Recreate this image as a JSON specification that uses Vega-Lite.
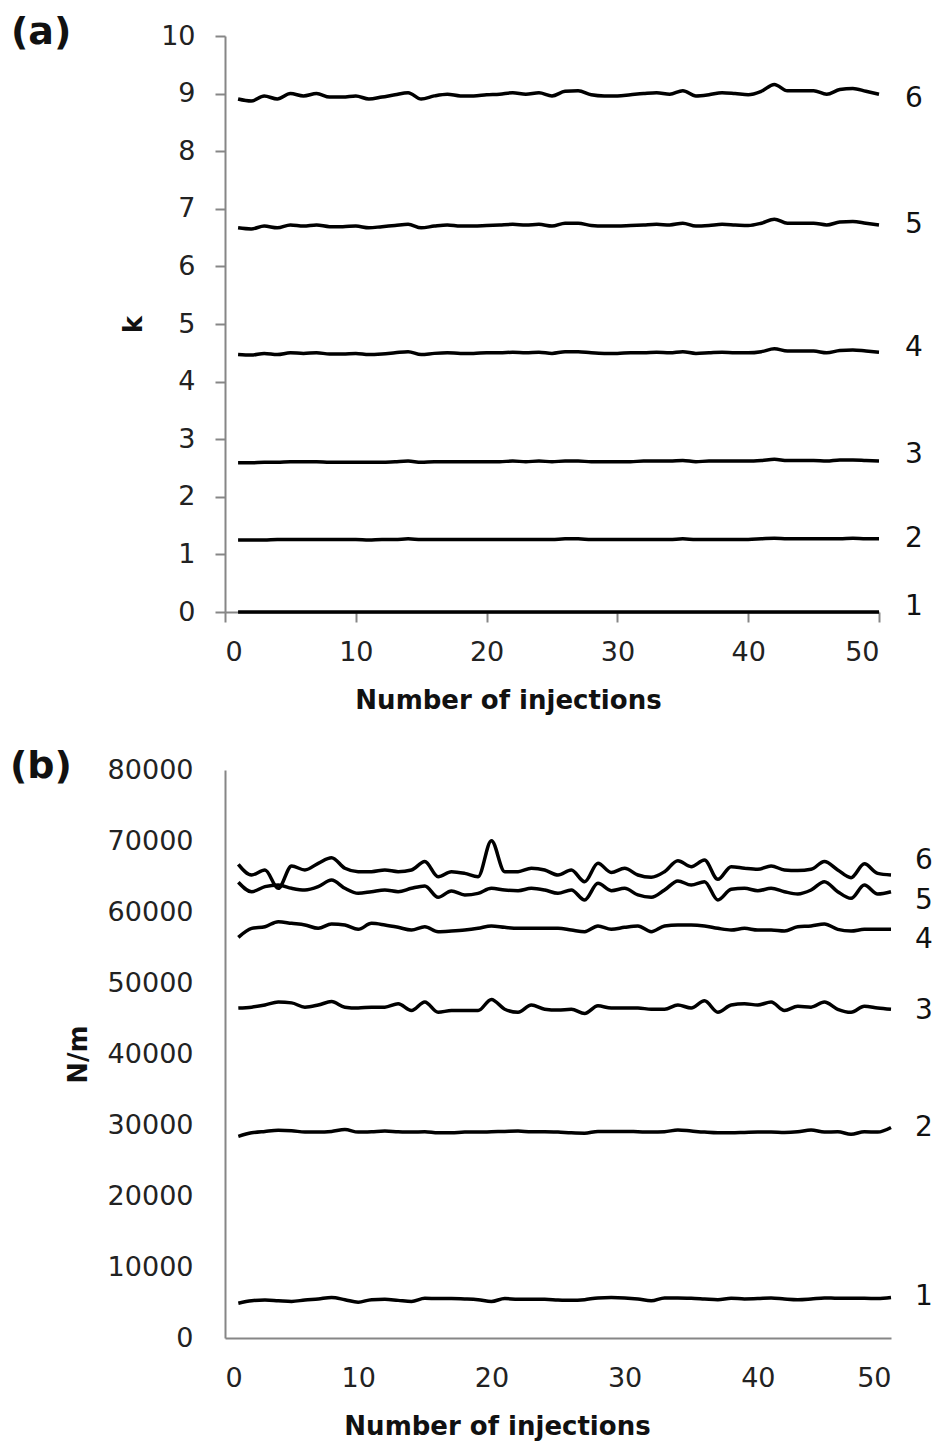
{
 "$schema": "https://vega.github.io/schema/vega-lite/v6.json",
 "padding": {"left": 10, "top": 14, "right": 5, "bottom": 5},
 "spacing": 35,
 "config": {
  "font": "DejaVu Sans",
  "view": {"stroke": null},
  "axis": {"grid": false, "domainColor": "#868686", "domainWidth": 2, "tickColor": "#868686", "tickWidth": 2, "tickSize": 10, "labelFont": "DejaVu Sans", "labelFontSize": 27, "labelColor": "#222222", "titleFont": "DejaVu Sans", "titleFontSize": 26, "titleFontWeight": "bold", "titleColor": "#111111"},
  "title": {"font": "DejaVu Sans", "fontSize": 38, "fontWeight": "bold", "color": "#111111"}
 },
 "datasets": {
  "a": [
   {"s":"1","n":1,"v":0},{"s":"1","n":2,"v":0},{"s":"1","n":3,"v":0},{"s":"1","n":4,"v":0},{"s":"1","n":5,"v":0},{"s":"1","n":6,"v":0},{"s":"1","n":7,"v":0},{"s":"1","n":8,"v":0},{"s":"1","n":9,"v":0},{"s":"1","n":10,"v":0},
   {"s":"1","n":11,"v":0},{"s":"1","n":12,"v":0},{"s":"1","n":13,"v":0},{"s":"1","n":14,"v":0},{"s":"1","n":15,"v":0},{"s":"1","n":16,"v":0},{"s":"1","n":17,"v":0},{"s":"1","n":18,"v":0},{"s":"1","n":19,"v":0},{"s":"1","n":20,"v":0},
   {"s":"1","n":21,"v":0},{"s":"1","n":22,"v":0},{"s":"1","n":23,"v":0},{"s":"1","n":24,"v":0},{"s":"1","n":25,"v":0},{"s":"1","n":26,"v":0},{"s":"1","n":27,"v":0},{"s":"1","n":28,"v":0},{"s":"1","n":29,"v":0},{"s":"1","n":30,"v":0},
   {"s":"1","n":31,"v":0},{"s":"1","n":32,"v":0},{"s":"1","n":33,"v":0},{"s":"1","n":34,"v":0},{"s":"1","n":35,"v":0},{"s":"1","n":36,"v":0},{"s":"1","n":37,"v":0},{"s":"1","n":38,"v":0},{"s":"1","n":39,"v":0},{"s":"1","n":40,"v":0},
   {"s":"1","n":41,"v":0},{"s":"1","n":42,"v":0},{"s":"1","n":43,"v":0},{"s":"1","n":44,"v":0},{"s":"1","n":45,"v":0},{"s":"1","n":46,"v":0},{"s":"1","n":47,"v":0},{"s":"1","n":48,"v":0},{"s":"1","n":49,"v":0},{"s":"1","n":50,"v":0},
   {"s":"2","n":1,"v":1.25},{"s":"2","n":2,"v":1.25},{"s":"2","n":3,"v":1.25},{"s":"2","n":4,"v":1.26},{"s":"2","n":5,"v":1.26},{"s":"2","n":6,"v":1.26},{"s":"2","n":7,"v":1.26},{"s":"2","n":8,"v":1.26},{"s":"2","n":9,"v":1.26},{"s":"2","n":10,"v":1.26},
   {"s":"2","n":11,"v":1.25},{"s":"2","n":12,"v":1.26},{"s":"2","n":13,"v":1.26},{"s":"2","n":14,"v":1.27},{"s":"2","n":15,"v":1.26},{"s":"2","n":16,"v":1.26},{"s":"2","n":17,"v":1.26},{"s":"2","n":18,"v":1.26},{"s":"2","n":19,"v":1.26},{"s":"2","n":20,"v":1.26},
   {"s":"2","n":21,"v":1.26},{"s":"2","n":22,"v":1.26},{"s":"2","n":23,"v":1.26},{"s":"2","n":24,"v":1.26},{"s":"2","n":25,"v":1.26},{"s":"2","n":26,"v":1.27},{"s":"2","n":27,"v":1.27},{"s":"2","n":28,"v":1.26},{"s":"2","n":29,"v":1.26},{"s":"2","n":30,"v":1.26},
   {"s":"2","n":31,"v":1.26},{"s":"2","n":32,"v":1.26},{"s":"2","n":33,"v":1.26},{"s":"2","n":34,"v":1.26},{"s":"2","n":35,"v":1.27},{"s":"2","n":36,"v":1.26},{"s":"2","n":37,"v":1.26},{"s":"2","n":38,"v":1.26},{"s":"2","n":39,"v":1.26},{"s":"2","n":40,"v":1.26},
   {"s":"2","n":41,"v":1.27},{"s":"2","n":42,"v":1.28},{"s":"2","n":43,"v":1.27},{"s":"2","n":44,"v":1.27},{"s":"2","n":45,"v":1.27},{"s":"2","n":46,"v":1.27},{"s":"2","n":47,"v":1.27},{"s":"2","n":48,"v":1.28},{"s":"2","n":49,"v":1.27},{"s":"2","n":50,"v":1.27},
   {"s":"3","n":1,"v":2.59},{"s":"3","n":2,"v":2.59},{"s":"3","n":3,"v":2.6},{"s":"3","n":4,"v":2.6},{"s":"3","n":5,"v":2.61},{"s":"3","n":6,"v":2.61},{"s":"3","n":7,"v":2.61},{"s":"3","n":8,"v":2.6},{"s":"3","n":9,"v":2.6},{"s":"3","n":10,"v":2.6},
   {"s":"3","n":11,"v":2.6},{"s":"3","n":12,"v":2.6},{"s":"3","n":13,"v":2.61},{"s":"3","n":14,"v":2.62},{"s":"3","n":15,"v":2.6},{"s":"3","n":16,"v":2.61},{"s":"3","n":17,"v":2.61},{"s":"3","n":18,"v":2.61},{"s":"3","n":19,"v":2.61},{"s":"3","n":20,"v":2.61},
   {"s":"3","n":21,"v":2.61},{"s":"3","n":22,"v":2.62},{"s":"3","n":23,"v":2.61},{"s":"3","n":24,"v":2.62},{"s":"3","n":25,"v":2.61},{"s":"3","n":26,"v":2.62},{"s":"3","n":27,"v":2.62},{"s":"3","n":28,"v":2.61},{"s":"3","n":29,"v":2.61},{"s":"3","n":30,"v":2.61},
   {"s":"3","n":31,"v":2.61},{"s":"3","n":32,"v":2.62},{"s":"3","n":33,"v":2.62},{"s":"3","n":34,"v":2.62},{"s":"3","n":35,"v":2.63},{"s":"3","n":36,"v":2.61},{"s":"3","n":37,"v":2.62},{"s":"3","n":38,"v":2.62},{"s":"3","n":39,"v":2.62},{"s":"3","n":40,"v":2.62},
   {"s":"3","n":41,"v":2.63},{"s":"3","n":42,"v":2.65},{"s":"3","n":43,"v":2.63},{"s":"3","n":44,"v":2.63},{"s":"3","n":45,"v":2.63},{"s":"3","n":46,"v":2.62},{"s":"3","n":47,"v":2.64},{"s":"3","n":48,"v":2.64},{"s":"3","n":49,"v":2.63},{"s":"3","n":50,"v":2.62},
   {"s":"4","n":1,"v":4.47},{"s":"4","n":2,"v":4.46},{"s":"4","n":3,"v":4.49},{"s":"4","n":4,"v":4.47},{"s":"4","n":5,"v":4.5},{"s":"4","n":6,"v":4.49},{"s":"4","n":7,"v":4.5},{"s":"4","n":8,"v":4.48},{"s":"4","n":9,"v":4.48},{"s":"4","n":10,"v":4.49},
   {"s":"4","n":11,"v":4.47},{"s":"4","n":12,"v":4.48},{"s":"4","n":13,"v":4.5},{"s":"4","n":14,"v":4.52},{"s":"4","n":15,"v":4.47},{"s":"4","n":16,"v":4.49},{"s":"4","n":17,"v":4.5},{"s":"4","n":18,"v":4.49},{"s":"4","n":19,"v":4.49},{"s":"4","n":20,"v":4.5},
   {"s":"4","n":21,"v":4.5},{"s":"4","n":22,"v":4.51},{"s":"4","n":23,"v":4.5},{"s":"4","n":24,"v":4.51},{"s":"4","n":25,"v":4.49},{"s":"4","n":26,"v":4.52},{"s":"4","n":27,"v":4.52},{"s":"4","n":28,"v":4.5},{"s":"4","n":29,"v":4.49},{"s":"4","n":30,"v":4.49},
   {"s":"4","n":31,"v":4.5},{"s":"4","n":32,"v":4.5},{"s":"4","n":33,"v":4.51},{"s":"4","n":34,"v":4.5},{"s":"4","n":35,"v":4.52},{"s":"4","n":36,"v":4.49},{"s":"4","n":37,"v":4.5},{"s":"4","n":38,"v":4.51},{"s":"4","n":39,"v":4.5},{"s":"4","n":40,"v":4.5},
   {"s":"4","n":41,"v":4.52},{"s":"4","n":42,"v":4.57},{"s":"4","n":43,"v":4.53},{"s":"4","n":44,"v":4.53},{"s":"4","n":45,"v":4.53},{"s":"4","n":46,"v":4.5},{"s":"4","n":47,"v":4.54},{"s":"4","n":48,"v":4.55},{"s":"4","n":49,"v":4.53},{"s":"4","n":50,"v":4.51},
   {"s":"5","n":1,"v":6.67},{"s":"5","n":2,"v":6.65},{"s":"5","n":3,"v":6.7},{"s":"5","n":4,"v":6.67},{"s":"5","n":5,"v":6.72},{"s":"5","n":6,"v":6.7},{"s":"5","n":7,"v":6.72},{"s":"5","n":8,"v":6.69},{"s":"5","n":9,"v":6.69},{"s":"5","n":10,"v":6.7},
   {"s":"5","n":11,"v":6.67},{"s":"5","n":12,"v":6.69},{"s":"5","n":13,"v":6.71},{"s":"5","n":14,"v":6.73},{"s":"5","n":15,"v":6.67},{"s":"5","n":16,"v":6.7},{"s":"5","n":17,"v":6.72},{"s":"5","n":18,"v":6.7},{"s":"5","n":19,"v":6.7},{"s":"5","n":20,"v":6.71},
   {"s":"5","n":21,"v":6.72},{"s":"5","n":22,"v":6.73},{"s":"5","n":23,"v":6.72},{"s":"5","n":24,"v":6.73},{"s":"5","n":25,"v":6.7},{"s":"5","n":26,"v":6.75},{"s":"5","n":27,"v":6.75},{"s":"5","n":28,"v":6.71},{"s":"5","n":29,"v":6.7},{"s":"5","n":30,"v":6.7},
   {"s":"5","n":31,"v":6.71},{"s":"5","n":32,"v":6.72},{"s":"5","n":33,"v":6.73},{"s":"5","n":34,"v":6.72},{"s":"5","n":35,"v":6.75},{"s":"5","n":36,"v":6.7},{"s":"5","n":37,"v":6.71},{"s":"5","n":38,"v":6.73},{"s":"5","n":39,"v":6.72},{"s":"5","n":40,"v":6.71},
   {"s":"5","n":41,"v":6.75},{"s":"5","n":42,"v":6.82},{"s":"5","n":43,"v":6.75},{"s":"5","n":44,"v":6.75},{"s":"5","n":45,"v":6.75},{"s":"5","n":46,"v":6.72},{"s":"5","n":47,"v":6.77},{"s":"5","n":48,"v":6.78},{"s":"5","n":49,"v":6.75},{"s":"5","n":50,"v":6.72},
   {"s":"6","n":1,"v":8.905},{"s":"6","n":2,"v":8.87},{"s":"6","n":3,"v":8.96},{"s":"6","n":4,"v":8.905},{"s":"6","n":5,"v":9.0},{"s":"6","n":6,"v":8.96},{"s":"6","n":7,"v":9.0},{"s":"6","n":8,"v":8.94},{"s":"6","n":9,"v":8.94},{"s":"6","n":10,"v":8.96},
   {"s":"6","n":11,"v":8.905},{"s":"6","n":12,"v":8.94},{"s":"6","n":13,"v":8.98},{"s":"6","n":14,"v":9.015},{"s":"6","n":15,"v":8.905},{"s":"6","n":16,"v":8.96},{"s":"6","n":17,"v":8.99},{"s":"6","n":18,"v":8.96},{"s":"6","n":19,"v":8.96},{"s":"6","n":20,"v":8.98},
   {"s":"6","n":21,"v":8.99},{"s":"6","n":22,"v":9.015},{"s":"6","n":23,"v":8.99},{"s":"6","n":24,"v":9.015},{"s":"6","n":25,"v":8.96},{"s":"6","n":26,"v":9.04},{"s":"6","n":27,"v":9.05},{"s":"6","n":28,"v":8.98},{"s":"6","n":29,"v":8.96},{"s":"6","n":30,"v":8.96},
   {"s":"6","n":31,"v":8.98},{"s":"6","n":32,"v":9.0},{"s":"6","n":33,"v":9.015},{"s":"6","n":34,"v":8.99},{"s":"6","n":35,"v":9.05},{"s":"6","n":36,"v":8.96},{"s":"6","n":37,"v":8.98},{"s":"6","n":38,"v":9.015},{"s":"6","n":39,"v":9.0},{"s":"6","n":40,"v":8.98},
   {"s":"6","n":41,"v":9.04},{"s":"6","n":42,"v":9.16},{"s":"6","n":43,"v":9.05},{"s":"6","n":44,"v":9.05},{"s":"6","n":45,"v":9.05},{"s":"6","n":46,"v":8.99},{"s":"6","n":47,"v":9.07},{"s":"6","n":48,"v":9.09},{"s":"6","n":49,"v":9.04},{"s":"6","n":50,"v":8.99}
  ],
  "b": [
   {"s":"1","n":1,"v":4900},{"s":"1","n":2,"v":5250},{"s":"1","n":3,"v":5350},{"s":"1","n":4,"v":5250},{"s":"1","n":5,"v":5150},{"s":"1","n":6,"v":5350},{"s":"1","n":7,"v":5500},{"s":"1","n":8,"v":5700},{"s":"1","n":9,"v":5400},{"s":"1","n":10,"v":5050},
   {"s":"1","n":11,"v":5400},{"s":"1","n":12,"v":5450},{"s":"1","n":13,"v":5300},{"s":"1","n":14,"v":5150},{"s":"1","n":15,"v":5600},{"s":"1","n":16,"v":5550},{"s":"1","n":17,"v":5550},{"s":"1","n":18,"v":5500},{"s":"1","n":19,"v":5400},{"s":"1","n":20,"v":5150},
   {"s":"1","n":21,"v":5550},{"s":"1","n":22,"v":5450},{"s":"1","n":23,"v":5450},{"s":"1","n":24,"v":5450},{"s":"1","n":25,"v":5350},{"s":"1","n":26,"v":5300},{"s":"1","n":27,"v":5400},{"s":"1","n":28,"v":5650},{"s":"1","n":29,"v":5700},{"s":"1","n":30,"v":5650},
   {"s":"1","n":31,"v":5500},{"s":"1","n":32,"v":5250},{"s":"1","n":33,"v":5650},{"s":"1","n":34,"v":5650},{"s":"1","n":35,"v":5600},{"s":"1","n":36,"v":5500},{"s":"1","n":37,"v":5400},{"s":"1","n":38,"v":5600},{"s":"1","n":39,"v":5500},{"s":"1","n":40,"v":5550},
   {"s":"1","n":41,"v":5650},{"s":"1","n":42,"v":5500},{"s":"1","n":43,"v":5400},{"s":"1","n":44,"v":5500},{"s":"1","n":45,"v":5650},{"s":"1","n":46,"v":5600},{"s":"1","n":47,"v":5600},{"s":"1","n":48,"v":5600},{"s":"1","n":49,"v":5550},{"s":"1","n":50,"v":5700},
   {"s":"2","n":1,"v":28400},{"s":"2","n":2,"v":28900},{"s":"2","n":3,"v":29100},{"s":"2","n":4,"v":29250},{"s":"2","n":5,"v":29200},{"s":"2","n":6,"v":29000},{"s":"2","n":7,"v":29000},{"s":"2","n":8,"v":29100},{"s":"2","n":9,"v":29350},{"s":"2","n":10,"v":29000},
   {"s":"2","n":11,"v":29050},{"s":"2","n":12,"v":29150},{"s":"2","n":13,"v":29050},{"s":"2","n":14,"v":29000},{"s":"2","n":15,"v":29050},{"s":"2","n":16,"v":28900},{"s":"2","n":17,"v":28900},{"s":"2","n":18,"v":29000},{"s":"2","n":19,"v":29000},{"s":"2","n":20,"v":29050},
   {"s":"2","n":21,"v":29100},{"s":"2","n":22,"v":29150},{"s":"2","n":23,"v":29050},{"s":"2","n":24,"v":29050},{"s":"2","n":25,"v":29000},{"s":"2","n":26,"v":28900},{"s":"2","n":27,"v":28850},{"s":"2","n":28,"v":29100},{"s":"2","n":29,"v":29100},{"s":"2","n":30,"v":29100},
   {"s":"2","n":31,"v":29050},{"s":"2","n":32,"v":29000},{"s":"2","n":33,"v":29050},{"s":"2","n":34,"v":29300},{"s":"2","n":35,"v":29150},{"s":"2","n":36,"v":29000},{"s":"2","n":37,"v":28900},{"s":"2","n":38,"v":28900},{"s":"2","n":39,"v":28950},{"s":"2","n":40,"v":29000},
   {"s":"2","n":41,"v":29000},{"s":"2","n":42,"v":28950},{"s":"2","n":43,"v":29050},{"s":"2","n":44,"v":29300},{"s":"2","n":45,"v":29000},{"s":"2","n":46,"v":29050},{"s":"2","n":47,"v":28700},{"s":"2","n":48,"v":29050},{"s":"2","n":49,"v":29000},{"s":"2","n":50,"v":29650},
   {"s":"3","n":1,"v":46480},{"s":"3","n":2,"v":46600},{"s":"3","n":3,"v":46900},{"s":"3","n":4,"v":47320},{"s":"3","n":5,"v":47200},{"s":"3","n":6,"v":46600},{"s":"3","n":7,"v":46900},{"s":"3","n":8,"v":47380},{"s":"3","n":9,"v":46600},{"s":"3","n":10,"v":46480},
   {"s":"3","n":11,"v":46600},{"s":"3","n":12,"v":46600},{"s":"3","n":13,"v":47080},{"s":"3","n":14,"v":46120},{"s":"3","n":15,"v":47320},{"s":"3","n":16,"v":45880},{"s":"3","n":17,"v":46120},{"s":"3","n":18,"v":46120},{"s":"3","n":19,"v":46120},{"s":"3","n":20,"v":47680},
   {"s":"3","n":21,"v":46300},{"s":"3","n":22,"v":45880},{"s":"3","n":23,"v":46900},{"s":"3","n":24,"v":46300},{"s":"3","n":25,"v":46180},{"s":"3","n":26,"v":46300},{"s":"3","n":27,"v":45700},{"s":"3","n":28,"v":46780},{"s":"3","n":29,"v":46480},{"s":"3","n":30,"v":46480},
   {"s":"3","n":31,"v":46480},{"s":"3","n":32,"v":46300},{"s":"3","n":33,"v":46300},{"s":"3","n":34,"v":46900},{"s":"3","n":35,"v":46480},{"s":"3","n":36,"v":47500},{"s":"3","n":37,"v":45880},{"s":"3","n":38,"v":46900},{"s":"3","n":39,"v":47080},{"s":"3","n":40,"v":46900},
   {"s":"3","n":41,"v":47320},{"s":"3","n":42,"v":46120},{"s":"3","n":43,"v":46720},{"s":"3","n":44,"v":46600},{"s":"3","n":45,"v":47320},{"s":"3","n":46,"v":46300},{"s":"3","n":47,"v":45880},{"s":"3","n":48,"v":46720},{"s":"3","n":49,"v":46480},{"s":"3","n":50,"v":46300},
   {"s":"4","n":1,"v":56430},{"s":"4","n":2,"v":57700},{"s":"4","n":3,"v":57930},{"s":"4","n":4,"v":58640},{"s":"4","n":5,"v":58400},{"s":"4","n":6,"v":58170},{"s":"4","n":7,"v":57700},{"s":"4","n":8,"v":58310},{"s":"4","n":9,"v":58170},{"s":"4","n":10,"v":57560},
   {"s":"4","n":11,"v":58400},{"s":"4","n":12,"v":58170},{"s":"4","n":13,"v":57840},{"s":"4","n":14,"v":57460},{"s":"4","n":15,"v":57930},{"s":"4","n":16,"v":57230},{"s":"4","n":17,"v":57320},{"s":"4","n":18,"v":57460},{"s":"4","n":19,"v":57700},{"s":"4","n":20,"v":58030},
   {"s":"4","n":21,"v":57840},{"s":"4","n":22,"v":57700},{"s":"4","n":23,"v":57700},{"s":"4","n":24,"v":57700},{"s":"4","n":25,"v":57700},{"s":"4","n":26,"v":57460},{"s":"4","n":27,"v":57230},{"s":"4","n":28,"v":58030},{"s":"4","n":29,"v":57560},{"s":"4","n":30,"v":57840},
   {"s":"4","n":31,"v":58030},{"s":"4","n":32,"v":57230},{"s":"4","n":33,"v":58030},{"s":"4","n":34,"v":58170},{"s":"4","n":35,"v":58170},{"s":"4","n":36,"v":58030},{"s":"4","n":37,"v":57700},{"s":"4","n":38,"v":57460},{"s":"4","n":39,"v":57700},{"s":"4","n":40,"v":57460},
   {"s":"4","n":41,"v":57460},{"s":"4","n":42,"v":57320},{"s":"4","n":43,"v":57930},{"s":"4","n":44,"v":58030},{"s":"4","n":45,"v":58310},{"s":"4","n":46,"v":57560},{"s":"4","n":47,"v":57320},{"s":"4","n":48,"v":57560},{"s":"4","n":49,"v":57560},{"s":"4","n":50,"v":57560},
   {"s":"5","n":1,"v":64180},{"s":"5","n":2,"v":62860},{"s":"5","n":3,"v":63570},{"s":"5","n":4,"v":63800},{"s":"5","n":5,"v":63340},{"s":"5","n":6,"v":63100},{"s":"5","n":7,"v":63570},{"s":"5","n":8,"v":64510},{"s":"5","n":9,"v":63340},{"s":"5","n":10,"v":62630},
   {"s":"5","n":11,"v":62860},{"s":"5","n":12,"v":63100},{"s":"5","n":13,"v":62860},{"s":"5","n":14,"v":63340},{"s":"5","n":15,"v":63670},{"s":"5","n":16,"v":62070},{"s":"5","n":17,"v":62960},{"s":"5","n":18,"v":62400},{"s":"5","n":19,"v":62630},{"s":"5","n":20,"v":63340},
   {"s":"5","n":21,"v":63100},{"s":"5","n":22,"v":63010},{"s":"5","n":23,"v":63340},{"s":"5","n":24,"v":63100},{"s":"5","n":25,"v":62630},{"s":"5","n":26,"v":63100},{"s":"5","n":27,"v":61690},{"s":"5","n":28,"v":64040},{"s":"5","n":29,"v":63010},{"s":"5","n":30,"v":63340},
   {"s":"5","n":31,"v":62400},{"s":"5","n":32,"v":62070},{"s":"5","n":33,"v":63100},{"s":"5","n":34,"v":64370},{"s":"5","n":35,"v":63800},{"s":"5","n":36,"v":64270},{"s":"5","n":37,"v":61690},{"s":"5","n":38,"v":63200},{"s":"5","n":39,"v":63340},{"s":"5","n":40,"v":63010},
   {"s":"5","n":41,"v":63340},{"s":"5","n":42,"v":62860},{"s":"5","n":43,"v":62540},{"s":"5","n":44,"v":63100},{"s":"5","n":45,"v":64270},{"s":"5","n":46,"v":62860},{"s":"5","n":47,"v":61920},{"s":"5","n":48,"v":63800},{"s":"5","n":49,"v":62540},{"s":"5","n":50,"v":62860},
   {"s":"6","n":1,"v":66720},{"s":"6","n":2,"v":65210},{"s":"6","n":3,"v":65920},{"s":"6","n":4,"v":63330},{"s":"6","n":5,"v":66480},{"s":"6","n":6,"v":65920},{"s":"6","n":7,"v":66860},{"s":"6","n":8,"v":67650},{"s":"6","n":9,"v":66160},{"s":"6","n":10,"v":65680},
   {"s":"6","n":11,"v":65680},{"s":"6","n":12,"v":65920},{"s":"6","n":13,"v":65680},{"s":"6","n":14,"v":65920},{"s":"6","n":15,"v":67100},{"s":"6","n":16,"v":64970},{"s":"6","n":17,"v":65680},{"s":"6","n":18,"v":65440},{"s":"6","n":19,"v":64970},{"s":"6","n":20,"v":70050},
   {"s":"6","n":21,"v":65680},{"s":"6","n":22,"v":65680},{"s":"6","n":23,"v":66160},{"s":"6","n":24,"v":65920},{"s":"6","n":25,"v":65210},{"s":"6","n":26,"v":65920},{"s":"6","n":27,"v":64270},{"s":"6","n":28,"v":66860},{"s":"6","n":29,"v":65560},{"s":"6","n":30,"v":66160},
   {"s":"6","n":31,"v":65210},{"s":"6","n":32,"v":64890},{"s":"6","n":33,"v":65680},{"s":"6","n":34,"v":67230},{"s":"6","n":35,"v":66390},{"s":"6","n":36,"v":67320},{"s":"6","n":37,"v":64600},{"s":"6","n":38,"v":66390},{"s":"6","n":39,"v":66160},{"s":"6","n":40,"v":66010},
   {"s":"6","n":41,"v":66480},{"s":"6","n":42,"v":65920},{"s":"6","n":43,"v":65830},{"s":"6","n":44,"v":66010},{"s":"6","n":45,"v":67100},{"s":"6","n":46,"v":65920},{"s":"6","n":47,"v":64840},{"s":"6","n":48,"v":66780},{"s":"6","n":49,"v":65440},{"s":"6","n":50,"v":65210}
  ],
  "la": [
   {"s":"6","n":50,"v":8.91},{"s":"5","n":50,"v":6.72},{"s":"4","n":50,"v":4.59},{"s":"3","n":50,"v":2.72},{"s":"2","n":50,"v":1.27},{"s":"1","n":50,"v":0.09}
  ],
  "lb": [
   {"s":"6","n":50,"v":67200},{"s":"5","n":50,"v":61550},{"s":"4","n":50,"v":56060},{"s":"3","n":50,"v":46000},{"s":"2","n":50,"v":29550},{"s":"1","n":50,"v":5800}
  ]
 },
 "vconcat": [
  {
   "width": 654,
   "height": 576,
   "title": {"text": "(a)", "anchor": "start", "frame": "group", "dx": -214, "dy": 30, "offset": 0},
   "layer": [
    {
     "data": {"name": "a"},
     "mark": {"type": "line", "color": "#000000", "strokeWidth": 3.5, "interpolate": "monotone"},
     "encoding": {
      "x": {"field": "n", "type": "quantitative", "scale": {"domain": [0, 50]}, "axis": {"values": [0, 10, 20, 30, 40, 50], "title": "Number of injections", "labelPadding": 17, "titlePadding": 22, "titleX": 283, "titleAlign": "center"}},
      "y": {"field": "v", "type": "quantitative", "scale": {"domain": [0, 10]}, "axis": {"values": [0, 1, 2, 3, 4, 5, 6, 7, 8, 9, 10], "format": "d", "title": "k", "labelPadding": 20, "titlePadding": 14}},
      "detail": {"field": "s"}
     }
    },
    {
     "data": {"name": "la"},
     "mark": {"type": "text", "dx": 35, "fontSize": 28, "align": "center", "baseline": "middle", "color": "#111111"},
     "encoding": {
      "x": {"field": "n", "type": "quantitative"},
      "y": {"field": "v", "type": "quantitative"},
      "text": {"field": "s"}
     }
    }
   ]
  },
  {
   "width": 666,
   "height": 568,
   "title": {"text": "(b)", "anchor": "start", "frame": "group", "dx": -215, "dy": 30, "offset": 0},
   "layer": [
    {
     "data": {"name": "b"},
     "mark": {"type": "line", "color": "#000000", "strokeWidth": 3.5, "interpolate": "monotone"},
     "encoding": {
      "x": {"field": "n", "type": "quantitative", "scale": {"domain": [0, 50]}, "axis": {"values": [0, 10, 20, 30, 40, 50], "ticks": false, "title": "Number of injections", "labelPadding": 27, "titlePadding": 22, "titleX": 272, "titleAlign": "center"}},
      "y": {"field": "v", "type": "quantitative", "scale": {"domain": [0, 80000]}, "axis": {"values": [0, 10000, 20000, 30000, 40000, 50000, 60000, 70000, 80000], "format": "d", "ticks": false, "title": "N/m", "labelPadding": 32, "titlePadding": 16}},
      "detail": {"field": "s"}
     }
    },
    {
     "data": {"name": "lb"},
     "mark": {"type": "text", "dx": 33, "fontSize": 28, "align": "center", "baseline": "middle", "color": "#111111"},
     "encoding": {
      "x": {"field": "n", "type": "quantitative"},
      "y": {"field": "v", "type": "quantitative"},
      "text": {"field": "s"}
     }
    }
   ]
  }
 ]
}
